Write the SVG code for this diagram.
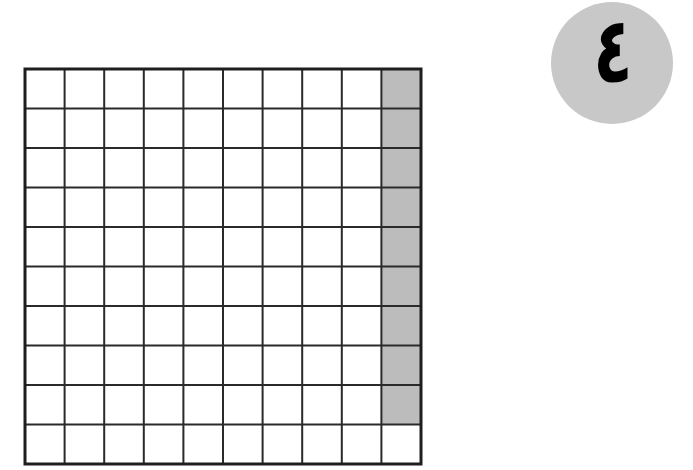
<svg xmlns="http://www.w3.org/2000/svg" width="693" height="470" viewBox="0 0 693 470">
<style>
.inner{stroke:#2a2a2a;stroke-width:2;fill:none}
.outer{stroke:#1e1e1e;stroke-width:3;fill:none}
.shade{fill:#bcbcbc}
.badge{fill:#c8c8c8}
.num{font-family:"DejaVu Sans","Noto Sans",sans-serif;font-weight:bold;font-size:68px;fill:#000}
</style>
<rect width="693" height="470" fill="#fff"/>
<g id="grid">
<rect class="shade" x="381.4" y="69" width="39.6" height="355.5"/>
<g class="inner">
<path d="M64.6 69V464M104.2 69V464M143.8 69V464M183.4 69V464M223 69V464M262.6 69V464M302.2 69V464M341.8 69V464M381.4 69V464"/>
<path d="M25 108.5H421M25 148H421M25 187.5H421M25 227H421M25 266.5H421M25 306H421M25 345.5H421M25 385H421M25 424.5H421"/>
</g>
<rect class="outer" x="25" y="69" width="396" height="395"/>
</g>
<g id="badge">
<circle class="badge" cx="612" cy="63" r="61"/>
<text class="num" text-anchor="middle" transform="translate(613 82) scale(0.95 1.35)">٤</text>
</g>
</svg>
